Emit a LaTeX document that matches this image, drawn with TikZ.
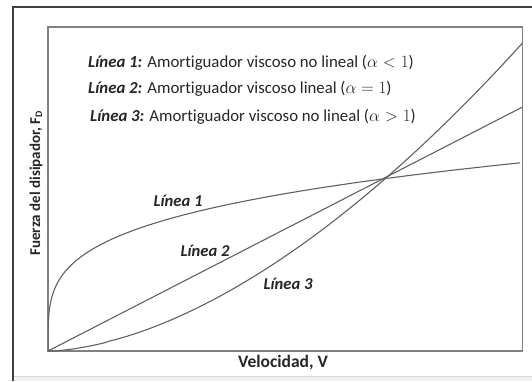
\documentclass[tikz,border=0pt]{standalone}
\usepackage{fontspec}
\setmainfont{Carlito}[Ligatures={NoCommon}]
\begin{document}
\begin{tikzpicture}[x=1pt,y=-1pt,
  frame/.style={draw=black!75,line width=2pt},
  plotbox/.style={draw=black!50,line width=1.2pt},
  curve/.style={draw=black!62,line width=1.1pt},
  legend/.style={anchor=west,font=\fontsize{16.8}{18}\selectfont,text=black!85,inner sep=0pt},
  curvelabel/.style={font=\fontsize{16.6}{18}\selectfont\bfseries\itshape,text=black!85,inner sep=0pt},
  axislabel/.style={font=\fontsize{17.5}{19}\selectfont\bfseries,text=black!85,inner sep=0pt}]
\useasboundingbox (0,0) rectangle (532,381);
\fill[white] (0,0) rectangle (532,381);
% bottom light band
\fill[black!5] (12,376) rectangle (532,381);
\draw[black!15,line width=0.8pt] (12,376) -- (532,376);
% outer frame
\draw[frame] (12.5,381) -- (12.5,6.5) -- (532,6.5);
% plot box
\coordinate (O) at (48,351);
\coordinate (TR) at (522.5,27);
\draw[plotbox] (O) rectangle (TR);
\begin{scope}
\clip (O) rectangle (TR);
% Line 2 (linear)
\coordinate (L2end) at (522.5,107);
\draw[curve] (O) -- (L2end);
% Line 1 (alpha < 1)
\draw[curve] (O) -- plot[domain=0.02:1,samples=120,variable=\t] ({48+474.5*\t^4},{351-188.4*pow(\t,1.04)});
% Line 3 (alpha > 1)
\draw[curve] (O) -- plot[domain=0.01:1,samples=100,variable=\t] ({48+474.5*\t},{351-308*pow(\t,1.7)});
\end{scope}
% legend
\node[legend] (leg1) at (88,63) {\textbf{\textit{Línea 1:}} Amortiguador viscoso no lineal ($\alpha<1$)};
\node[legend] (leg2) at (88,89) {\textbf{\textit{Línea 2:}} Amortiguador viscoso lineal ($\alpha=1$)};
\node[legend] (leg3) at (90,117) {\textbf{\textit{Línea 3:}} Amortiguador viscoso no lineal ($\alpha>1$)};
% curve labels
\node[curvelabel] (lab1) at (178,201) {Línea 1};
\node[curvelabel] (lab2) at (205,251) {Línea 2};
\node[curvelabel] (lab3) at (288,284) {Línea 3};
% axis labels
\node[axislabel] (xlab) at (283,363) {Velocidad, V};
\node[axislabel,font=\fontsize{15}{17}\selectfont\bfseries,rotate=90] (ylab) at (36,183) {Fuerza del disipador, F\textsubscript{\fontsize{10}{11}\selectfont D}};
\end{tikzpicture}
\end{document}
